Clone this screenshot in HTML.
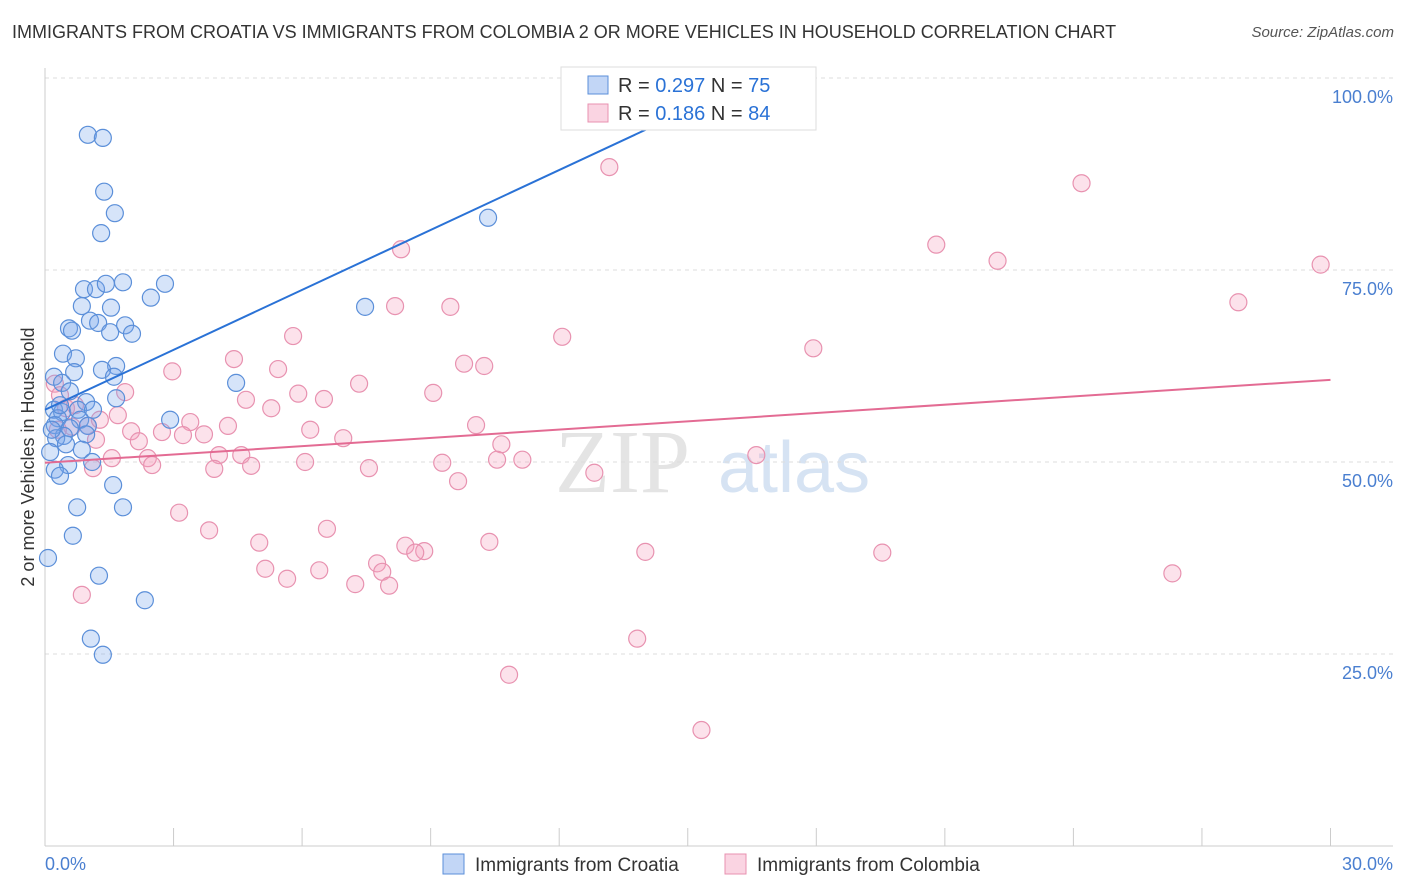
<!DOCTYPE html>
<html><head><meta charset="utf-8"><style>
body{margin:0;background:#fff;font-family:"Liberation Sans",sans-serif;}
#wrap{position:relative;width:1406px;height:892px;overflow:hidden;}
.t{position:absolute;white-space:nowrap;}
</style></head><body>
<div id="wrap">
<div class="t" style="left:12px;top:22px;font-size:18px;color:#333;">IMMIGRANTS FROM CROATIA VS IMMIGRANTS FROM COLOMBIA 2 OR MORE VEHICLES IN HOUSEHOLD CORRELATION CHART</div>
<div class="t" style="right:12px;top:24px;font-size:15px;color:#555;font-style:italic;">Source: ZipAtlas.com</div>
<svg id="svg" width="1406" height="892" style="position:absolute;left:0;top:0"></svg>
</div>
<script>
const xTicks=[0,3,6,9,12,15,18,21,24,27,30];
const yTicks=[25,50,75,100];
const yTickLabels=["25.0%","50.0%","75.0%","100.0%"];
const croatiaX=[1.00,1.35,1.38,1.63,1.31,1.82,2.80,0.91,1.19,1.42,2.47,0.86,1.54,7.47,10.34,1.05,0.56,0.63,1.24,1.87,1.52,2.03,0.42,0.72,1.66,0.68,1.33,0.21,1.61,0.40,4.46,0.58,1.66,0.96,0.21,0.40,0.77,1.12,0.30,0.82,2.92,0.23,0.58,1.00,0.44,0.26,0.96,0.49,0.86,0.12,1.10,0.54,0.23,0.35,1.59,0.75,1.82,0.65,0.07,1.26,2.33,1.07,1.35,0.16,0.35];
const croatiaY=[92.6,92.2,85.2,82.4,79.8,73.4,73.2,72.5,72.5,73.2,71.4,70.3,70.1,70.2,81.8,68.4,67.4,67.1,68.1,67.8,66.9,66.7,64.1,63.5,62.5,61.7,62.0,61.1,61.1,60.3,60.3,59.2,58.3,57.8,56.8,56.5,56.8,56.8,55.7,55.5,55.5,54.8,54.4,54.7,53.4,53.1,53.6,52.3,51.6,51.3,50.0,49.6,49.0,48.2,47.0,44.1,44.1,40.4,37.5,35.2,32.0,27.0,24.9,54.2,57.4];
const colombiaX=[13.17,24.19,8.31,20.80,22.23,29.77,27.85,8.17,9.46,5.79,12.07,17.93,4.41,9.78,10.25,2.97,5.44,7.33,0.23,1.87,4.69,5.91,6.51,9.06,0.49,1.70,3.39,5.28,4.27,10.06,2.01,2.19,2.73,3.22,3.71,6.19,6.96,10.65,0.63,1.00,1.56,2.40,2.50,4.06,4.58,4.81,6.07,9.27,10.55,11.14,16.60,1.12,3.95,7.56,9.64,12.82,3.13,3.83,6.58,5.00,8.41,8.85,8.64,10.37,14.01,19.54,7.75,7.87,5.14,6.40,5.65,7.24,8.03,26.31,0.86,13.82,10.83,15.32,0.35,0.70,1.28,0.30,1.19];
const colombiaY=[88.4,86.3,77.7,78.3,76.2,75.7,70.8,70.3,70.2,66.4,66.3,64.8,63.4,62.8,62.5,61.8,62.1,60.2,60.2,59.1,58.1,58.9,58.2,59.0,57.0,56.1,55.2,57.0,54.7,54.8,54.0,52.7,53.9,53.5,53.6,54.2,53.1,52.3,54.6,54.7,50.5,50.5,49.6,50.9,50.9,49.5,50.0,49.9,50.3,50.3,50.9,49.2,49.1,49.2,47.5,48.6,43.4,41.1,41.3,39.5,39.1,38.4,38.2,39.6,38.3,38.2,36.8,35.7,36.1,35.9,34.8,34.1,33.9,35.5,32.7,27.0,22.3,15.1,58.7,57.4,55.5,54.2,52.9];
const croatiaTrend=[[0,56.8],[15.76,97.8]];
const colombiaTrend=[[0,49.9],[30,60.7]];
const legendR=["0.297","0.186"], legendN=["75","84"];

const NS="http://www.w3.org/2000/svg";
const svg=document.getElementById('svg');
const X=v=>45+v*42.85, Y=v=>846-v*7.68;
function mk(tag,attrs,parent){const e=document.createElementNS(NS,tag);for(const k in attrs)e.setAttribute(k,attrs[k]);(parent||svg).appendChild(e);return e;}
// watermark
let w=mk('text',{x:555,y:492,'font-size':90,fill:'#e4e4e4','font-family':'Liberation Serif, serif'});w.textContent='ZIP';


let w2=mk('text',{x:718,y:492,'font-size':72,fill:'#d6e3f3','font-family':'Liberation Sans, sans-serif'});w2.textContent='atlas';


// grid
yTicks.forEach((t,i)=>{
 const g=mk('line',{x1:45,x2:1393,y1:Y(t),y2:Y(t),stroke:'#ddd','stroke-dasharray':'4,4'});
 
 
 const l=mk('text',{x:1393,y:Y(t)+25,'text-anchor':'end','font-size':18,fill:'#4a7fd0','font-family':'Liberation Sans, sans-serif'});
 l.textContent=yTickLabels[i];
 
 
});
let ya=mk('line',{x1:45,x2:45,y1:68,y2:846,stroke:'#ccc'});


let xa=mk('line',{x1:45,x2:1393,y1:846,y2:846,stroke:'#ccc'});


xTicks.forEach(t=>{
 const tk=mk('line',{x1:X(t),x2:X(t),y1:828,y2:846,stroke:'#ccc'});
 
 
});
function pts(xs,ys,fill,stroke,name){
 xs.forEach((v,i)=>{
  const c=mk('circle',{cx:X(v),cy:Y(ys[i]),r:8.5,fill:fill,stroke:stroke,'stroke-width':1.2});
  
  
 });
}
pts(colombiaX,colombiaY,'rgba(244,160,190,0.3)','#e892b0','point-colombia');
pts(croatiaX,croatiaY,'rgba(120,165,235,0.3)','#5b8fd9','point-croatia');
let l1=mk('line',{x1:X(croatiaTrend[0][0]),y1:Y(croatiaTrend[0][1]),x2:X(croatiaTrend[1][0]),y2:Y(croatiaTrend[1][1]),stroke:'#2a72d6','stroke-width':2});


let l2=mk('line',{x1:X(colombiaTrend[0][0]),y1:Y(colombiaTrend[0][1]),x2:X(colombiaTrend[1][0]),y2:Y(colombiaTrend[1][1]),stroke:'#e36b93','stroke-width':2});


// legend box
let lb=mk('rect',{x:561,y:67,width:255,height:63,fill:'#fff',stroke:'#ddd'});


[['rgba(120,165,235,0.45)','#5b8fd9'],['rgba(244,160,190,0.45)','#e892b0']].forEach((c,i)=>{
 const y=76+i*28;
 const s=mk('rect',{x:588,y:y,width:20,height:18,fill:c[0],stroke:c[1]});
 
 
 const t=mk('text',{x:618,y:y+16,'font-size':20,fill:'#333','font-family':'Liberation Sans, sans-serif'});
 t.innerHTML='R = <tspan fill="#2a72d6">'+(i?' ':'')+legendR[i]+'</tspan>   N = <tspan fill="#2a72d6">'+legendN[i]+'</tspan>';
 t.setAttribute('xml:space','preserve');
 
 
});
// axis labels
let xl0=mk('text',{x:45,y:870,'font-size':18,fill:'#4a7fd0','font-family':'Liberation Sans, sans-serif'});xl0.textContent='0.0%';


let xl1=mk('text',{x:1393,y:870,'text-anchor':'end','font-size':18,fill:'#4a7fd0','font-family':'Liberation Sans, sans-serif'});xl1.textContent='30.0%';


let yt=mk('text',{x:0,y:0,'font-size':18,fill:'#333','text-anchor':'middle','font-family':'Liberation Sans, sans-serif',transform:'translate(34,457) rotate(-90)'});yt.textContent='2 or more Vehicles in Household';


// bottom legend
[['Immigrants from Croatia',443,'rgba(120,165,235,0.45)','#5b8fd9'],['Immigrants from Colombia',725,'rgba(244,160,190,0.45)','#e892b0']].forEach(e=>{
 const s=mk('rect',{x:e[1],y:854,width:21,height:20,fill:e[2],stroke:e[3]});
 
 
 const t=mk('text',{x:e[1]+32,y:871,'font-size':19,fill:'#333','font-family':'Liberation Sans, sans-serif'});t.textContent=e[0];
 
 
});
</script>
</body></html>
